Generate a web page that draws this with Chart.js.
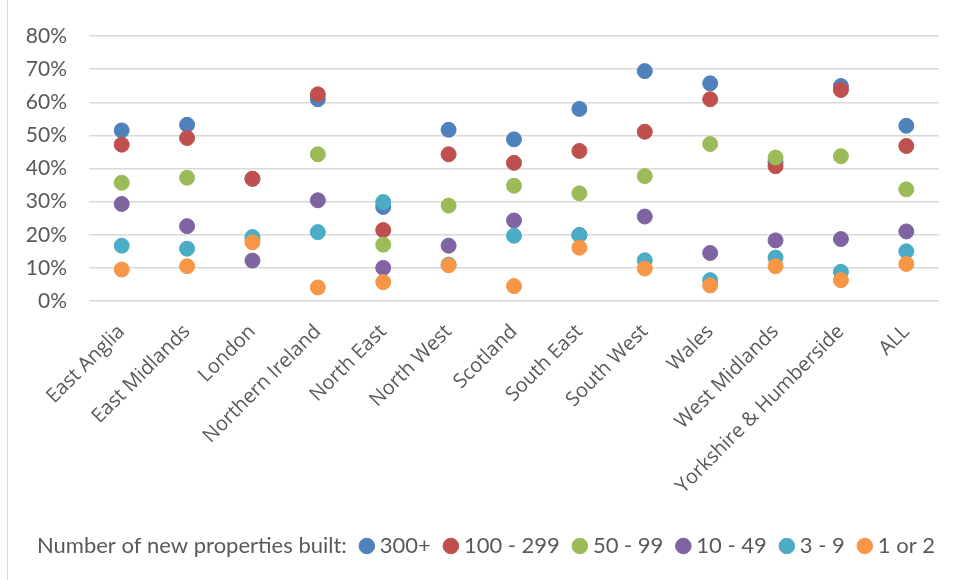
<!DOCTYPE html>
<html>
<head>
<meta charset="utf-8">
<script src="https://cdn.jsdelivr.net/npm/chart.js@4.4.1/dist/chart.umd.min.js"></script>
<style>
  body { margin: 0; background: #fff; }
  #wrap { position: relative; width: 957px; height: 580px; }
  #frame { position: absolute; left: 7px; top: 0; width: 0; height: 580px; border-left: 1px solid #d9d9d9; }
  #chart { position: absolute; left: 0; top: 0; }
</style>
</head>
<body>
<div id="wrap">
  <div id="frame"></div>
  <canvas id="chart" width="957" height="580"></canvas>
</div>
<script>
const regions = ['East Anglia', 'East Midlands', 'London', 'Northern Ireland', 'North East', 'North West',
    'Scotland', 'South East', 'South West', 'Wales', 'West Midlands', 'Yorkshire & Humberside', 'ALL'];

const size300plus = [51.5, 53.2, 36.9, 60.9, 28.4, 51.7, 48.8, 58.0, 69.4, 65.7, 42.0, 64.9, 52.9];
const size100to299 = [47.2, 49.2, 36.9, 62.4, 21.4, 44.3, 41.7, 45.3, 51.1, 60.9, 40.7, 63.7, 46.8];
const size50to99 = [35.7, 37.2, 18.5, 44.3, 17.0, 28.8, 34.8, 32.5, 37.7, 47.4, 43.3, 43.7, 33.7];
const size10to49 = [29.3, 22.6, 12.2, 30.4, 10.0, 16.7, 24.3, 19.9, 25.5, 14.5, 18.3, 18.7, 21.0];
const size3to9 = [16.7, 15.8, 19.3, 20.8, 29.9, 11.0, 19.7, 19.9, 12.3, 6.3, 13.1, 8.8, 15.0];
const size1or2 = [9.5, 10.5, 17.7, 4.1, 5.7, 10.8, 4.5, 16.1, 9.8, 4.7, 10.5, 6.3, 11.2];

const seriesNames = ['300+', '100 - 299', '50 - 99', '10 - 49', '3 - 9', '1 or 2'];
const seriesColors = ['#4F81BD', '#C0504D', '#9BBB59', '#8064A2', '#4BACC6', '#F79646'];
const legendTitle = 'Number of new properties built:';

const allSeries = [size300plus, size100to299, size50to99, size10to49, size3to9, size1or2];
const textColor = '#595959';

const datasets = allSeries.map((vals, i) => ({
    label: seriesNames[i],
    data: vals,
    showLine: false,
    pointStyle: 'circle',
    pointRadius: 7.5,
    pointHoverRadius: 7.5,
    borderWidth: 1,
    borderColor: seriesColors[i],
    backgroundColor: seriesColors[i],
    order: allSeries.length - i   // later series drawn on top, like the original
}));

const ctx = document.getElementById('chart').getContext('2d');
const chart = new Chart(ctx, {
    type: 'line',
    data: { labels: regions, datasets: datasets },
    options: {
        responsive: false,
        animation: false,
        layout: { padding: { left: 0, right: 0, top: 36, bottom: 13 } },
        plugins: {
            tooltip: { enabled: false },
            legend: {
                position: 'bottom',
                labels: {
                    font: { family: 'Lato', size: 22 },
                    color: textColor,
                    usePointStyle: true,
                    boxWidth: 4,
                    boxHeight: 11,
                    padding: 18,
                    generateLabels(chart) {
                        const items = Chart.defaults.plugins.legend.labels.generateLabels(chart);
                        items.sort((a, b) => a.datasetIndex - b.datasetIndex);
                        items.unshift({
                            text: legendTitle,
                            fillStyle: 'rgba(0,0,0,0)',
                            strokeStyle: 'rgba(0,0,0,0)',
                            lineWidth: 0,
                            pointStyle: 'circle',
                            fontColor: textColor,
                            datasetIndex: -1
                        });
                        return items;
                    }
                }
            }
        },
        scales: {
            x: {
                offset: true,
                grid: { display: false },
                border: { display: false },
                ticks: {
                    autoSkip: false,
                    maxRotation: 45,
                    minRotation: 45,
                    padding: 11,
                    color: textColor,
                    font: { family: 'Open Sans', size: 20 }
                },
                afterFit(scale) { scale.height = 216; }
            },
            y: {
                min: 0,
                max: 80,
                grid: { color: '#d9d9d9', lineWidth: 1.5, drawTicks: false },
                border: { display: false },
                ticks: {
                    stepSize: 10,
                    padding: 22,
                    color: textColor,
                    font: { family: 'Lato', size: 21 },
                    callback: v => v + '%'
                },
                afterFit(scale) { scale.width = 89; }
            },
            // empty strip on the right so the plot ends where the original does
            yRight: {
                position: 'right',
                grid: { display: false },
                border: { display: false },
                ticks: { display: false },
                afterFit(scale) { scale.width = 18; }
            }
        }
    }
});
</script>
</body>
</html>
